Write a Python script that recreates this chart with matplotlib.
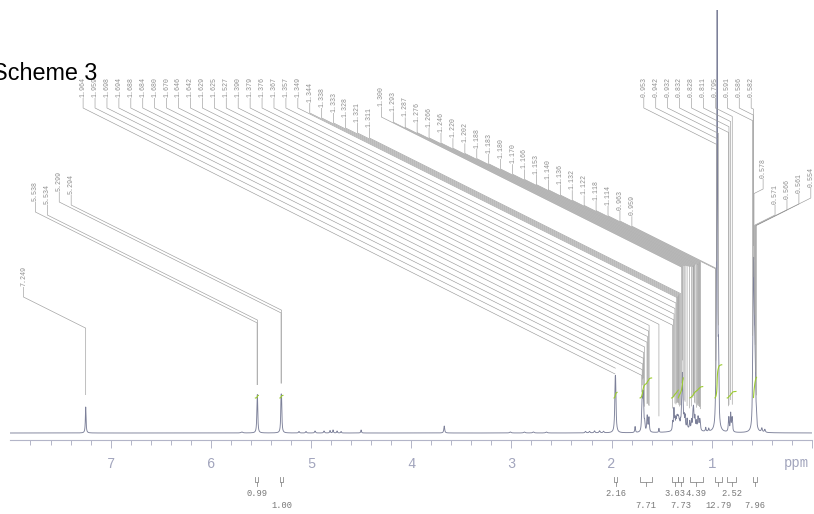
import numpy as np
import matplotlib
matplotlib.use("Agg")
import matplotlib.pyplot as plt
from matplotlib.collections import LineCollection
from matplotlib.patches import Rectangle

# peak-picking labels (ppm), in the order printed along the top of the plot
label_ppm = [7.249, 5.538, 5.534, 5.299, 5.294,
             1.964, 1.959, 1.698, 1.694, 1.688, 1.684, 1.680, 1.670, 1.646, 1.642,
             1.629, 1.625, 1.527, 1.390, 1.379, 1.376, 1.367, 1.357, 1.349,
             1.344, 1.338, 1.333, 1.328, 1.321, 1.311,
             1.300, 1.293, 1.287, 1.276, 1.266, 1.246, 1.220, 1.202, 1.188, 1.183,
             1.180, 1.170, 1.166, 1.153, 1.140, 1.136, 1.132, 1.122, 1.118, 1.114,
             0.963, 0.959,
             0.953, 0.942, 0.932, 0.832, 0.828, 0.811, 0.795, 0.591, 0.586, 0.582,
             0.578, 0.571, 0.566, 0.561, 0.554]

# lines making up the 1H trace: centre (ppm), height (px above baseline), half width (ppm)
line_ppm = [7.249, 5.538, 5.534, 5.299, 5.294, 5.69,
            5.12, 5.05, 4.96, 4.87, 4.81, 4.78, 4.74, 4.70, 4.50,
            3.67, 3.01, 2.87, 2.78, 2.65, 2.26, 2.22, 2.17, 2.12, 2.08,
            1.964, 1.959, 1.765,
            1.698, 1.694, 1.688, 1.684, 1.680, 1.670, 1.646, 1.642, 1.629, 1.625,
            1.527,
            1.390, 1.379, 1.376, 1.367, 1.357, 1.349, 1.344, 1.338, 1.333, 1.328, 1.321, 1.311,
            1.300, 1.293, 1.287,
            1.276, 1.266, 1.246, 1.220, 1.202, 1.188, 1.183, 1.180, 1.170, 1.166,
            1.153, 1.140, 1.136, 1.132, 1.122, 1.118, 1.114,
            1.25, 1.06, 1.03, 0.963, 0.959,
            0.953, 0.946, 0.942, 0.932,
            0.832, 0.828, 0.811, 0.800, 0.795,
            0.591, 0.586, 0.582, 0.578, 0.571, 0.566, 0.561, 0.554,
            0.50, 0.47]
line_height = [26, 24, 24, 27, 27, 1,
               1.5, 1.5, 2, 2, 2.5, 3, 2, 1.5, 3,
               7, 1, 1, 1, 1, 1.5, 1.5, 2, 2, 1.5,
               36, 36, 6,
               14, 18, 20, 20, 16, 8, 10, 10, 9, 9,
               4,
               8, 12, 12, 10, 9, 8, 8, 7, 7, 6, 6, 6,
               20, 45, 20,
               10, 12, 10, 8, 9, 12, 12, 10, 8, 8,
               8, 7, 7, 6, 6, 6, 5,
               3, 4, 3, 6, 6,
               70, 650, 90, 60,
               8, 10, 18, 6, 12,
               35, 65, 85, 85, 55, 30, 17, 10,
               4, 3]
line_hwhm = [0.004, 0.004, 0.004, 0.004, 0.004, 0.01,
             0.005, 0.005, 0.005, 0.005, 0.004, 0.004, 0.004, 0.004, 0.004,
             0.005, 0.008, 0.008, 0.008, 0.008, 0.006, 0.006, 0.006, 0.006, 0.006,
             0.005, 0.005, 0.004,
             0.004, 0.004, 0.004, 0.004, 0.004, 0.004, 0.004, 0.004, 0.004, 0.004,
             0.003,
             0.004, 0.004, 0.004, 0.004, 0.004, 0.004, 0.004, 0.004, 0.004, 0.004, 0.004, 0.004,
             0.004, 0.004, 0.004,
             0.004, 0.004, 0.004, 0.004, 0.004, 0.004, 0.004, 0.004, 0.004, 0.004,
             0.004, 0.004, 0.004, 0.004, 0.004, 0.004, 0.004,
             0.12, 0.004, 0.004, 0.004, 0.004,
             0.004, 0.0025, 0.004, 0.004,
             0.004, 0.004, 0.004, 0.004, 0.004,
             0.004, 0.004, 0.004, 0.004, 0.004, 0.004, 0.004, 0.004,
             0.006, 0.006]

# integrals: region start / end (ppm) and value
int_from = [5.555, 5.31, 1.975, 1.715, 1.400, 1.334, 1.217, 0.967, 0.845, 0.583]
int_to = [5.525, 5.28, 1.945, 1.600, 1.334, 1.284, 1.090, 0.900, 0.758, 0.553]
int_value = [0.99, 1.00, 2.16, 7.71, 3.03, 7.73, 4.39, 12.79, 2.52, 7.96]

axis_ticks = [7, 6, 5, 4, 3, 2, 1, 0]
axis_tick_labels = ['7', '6', '5', '4', '3', '2', '1', '']

# ---- page geometry (pixels of the 814x514 page) ----------------------------
W, H = 814, 514
PX0, PX_PER_PPM = 811.9, 100.18     # x pixel of 0 ppm, pixels per ppm
BASE, TOP, AXIS_Y = 433, 10, 440    # baseline, clip top, axis line
GREEN_Y = 398

def px2ppm(px):
    return (PX0 - np.asarray(px, dtype=float)) / PX_PER_PPM

def intensity(x):
    x = np.asarray(x, dtype=float)[..., None]
    c = np.array(line_ppm)
    h = np.array(line_height)
    w = np.array(line_hwhm)
    return (h / (1 + ((x - c) / w) ** 2)).sum(axis=-1)

plt.rcParams['font.family'] = ['Liberation Mono', 'DejaVu Sans Mono']

fig = plt.figure(figsize=(W / 100, H / 100), dpi=100)
ax = fig.add_axes([0, 0, 1, 1])
ax.set_xlim(px2ppm(0), px2ppm(W))
ax.set_ylim(H, 0)
ax.patch.set_visible(False)

spec_col = '#7c8099'
axis_col = '#b3b5c8'
lab_col = '#8e8e8e'

# spectrum
grid = np.linspace(8.0, 0.0, 32001)
spec, = ax.plot(grid, BASE - intensity(grid), color=spec_col, lw=0.65)
spec.set_clip_path(Rectangle((0.0, TOP), 8.0, H - TOP, transform=ax.transData))

# peak labels with their connector lines
n = len(label_ppm)
k = np.arange(n)
label_px = 23.45 + 11.93 * k
lead_y = np.empty(n)
lead_y[0] = 297
lead_y[1:5] = [212, 215, 202, 205]
lead_y[5:24] = 108
lead_y[24:30] = 113 + 5 * np.arange(6)
lead_y[30:52] = 117 + 5.2 * np.arange(22)
lead_y[52:62] = 108
lead_y[62] = 189
lead_y[63:67] = [215, 210, 204, 198]

peak_px = PX0 - np.array(label_ppm) * PX_PER_PPM
peak_top = BASE - intensity(label_ppm)
segs = []
for i in range(n):
    lx = px2ppm(label_px[i])
    knee = lead_y[i] + 0.5 * abs(peak_px[i] - label_px[i])
    bottom = max(knee, peak_top[i] - 12)
    segs.append([(lx, lead_y[i] - 10), (lx, lead_y[i]),
                 (label_ppm[i], knee), (label_ppm[i], bottom)])
    ax.text(lx, lead_y[i] - 11, f"{label_ppm[i]:.3f}", rotation=90,
            ha='center', va='bottom', fontsize=4.8, color=lab_col)
ax.add_collection(LineCollection(segs, colors='#9c9c9c', linewidths=0.45))

# integral curves and brackets
for i, (a, b, v) in enumerate(zip(int_from, int_to, int_value)):
    xs = np.linspace(a, b, 80)
    cum = np.cumsum(intensity(xs))
    ax.plot(xs, GREEN_Y - 2.6 * v * cum / cum[-1], color='#9ccc2e', lw=0.8)
    c = (a + b) / 2
    ax.plot([a, a, b, b], [477, 482, 482, 477], color='#8c8c8c', lw=0.6)
    ax.plot([c, c], [482, 486], color='#8c8c8c', lw=0.6)
    ax.text(c, 494 if i % 2 == 0 else 506, f"{v:.2f}", ha='center', va='center',
            fontsize=6.3, color='#777777')

# ppm axis
for s in ['left', 'right', 'top']:
    ax.spines[s].set_visible(False)
ax.spines['bottom'].set_position(('data', AXIS_Y))
ax.spines['bottom'].set_bounds(8.0, 0.0)
ax.spines['bottom'].set_color(axis_col)
ax.spines['bottom'].set_linewidth(0.8)
ax.set_xticks(axis_ticks, axis_tick_labels)
ax.set_xticks([t / 5 for t in range(1, 40) if t % 5], minor=True)
ax.tick_params(axis='x', which='major', direction='out', length=5.8, width=0.7,
               color=axis_col, labelcolor='#a2a5bd', labelsize=10, pad=6.5)
ax.tick_params(axis='x', which='minor', direction='out', length=3.6, width=0.7,
               color=axis_col)
ax.set_yticks([])
ax.text(0.16, 463, 'ppm', ha='center', va='center', fontsize=10, color='#a2a5bd')

ax.text(px2ppm(-8), 80, 'Scheme 3', family='Liberation Sans', fontsize=16.8,
        ha='left', va='baseline', color='black')

fig.savefig('out.png', dpi=100)
